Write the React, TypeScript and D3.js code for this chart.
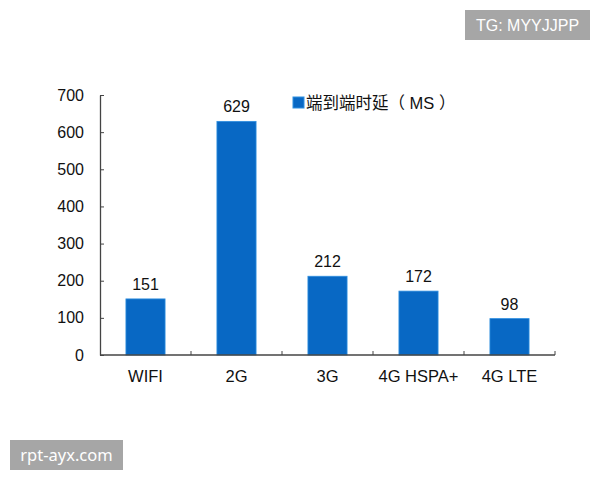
import React, { useEffect, useRef } from 'react';
import * as d3 from 'd3';

const categories = ['WIFI', '2G', '3G', '4G HSPA+', '4G LTE'];
const latency = [151, 629, 212, 172, 98];
const yTicks = [0, 100, 200, 300, 400, 500, 600, 700];
const seriesName = '端到端时延（ MS ）';

const App: React.FC = () => {
  const svgRef = useRef<SVGSVGElement>(null);

  useEffect(() => {
    if (!svgRef.current) return;
    const svg = d3.select(svgRef.current);
    svg.selectAll('*').remove();

    const width = 600;
    const height = 480;
    const margin = { left: 100, right: 45, top: 95, bottom: 125 };
    const font = '"Liberation Sans", Arial, "Noto Sans CJK SC", sans-serif';

    svg.attr('width', width).attr('height', height);
    svg.append('rect').attr('width', width).attr('height', height).style('fill', '#fff');

    const x = d3.scaleBand<string>()
      .domain(categories)
      .range([margin.left, width - margin.right])
      .paddingInner(0.57)
      .paddingOuter(0.285);

    const y = d3.scaleLinear()
      .domain([0, 700])
      .range([height - margin.bottom, margin.top]);

    const g = svg.append('g');

    // bars
    g.selectAll('.bar')
      .data(latency)
      .enter().append('rect')
      .attr('class', 'bar')
      .attr('x', (_, i) => x(categories[i])!)
      .attr('y', d => y(d))
      .attr('width', x.bandwidth())
      .attr('height', d => y(0) - y(d))
      .style('fill', '#0868c4')
      .style('stroke', '#2f8fe0')
      .style('stroke-width', 0.8);

    // value labels
    g.selectAll('.value')
      .data(latency)
      .enter().append('text')
      .attr('class', 'value')
      .attr('x', (_, i) => x(categories[i])! + x.bandwidth() / 2)
      .attr('y', d => y(d) - 9)
      .attr('text-anchor', 'middle')
      .style('font-family', font)
      .style('font-size', '16px')
      .style('fill', '#111')
      .text(d => d);

    // y axis
    const yAxis = g.append('g')
      .attr('transform', `translate(${margin.left},0)`)
      .call(d3.axisLeft(y).tickValues(yTicks).tickSize(-4).tickPadding(16).tickSizeOuter(0));
    yAxis.select('.domain').style('stroke', '#444').style('stroke-width', 1.3);
    yAxis.selectAll('.tick line').style('stroke', '#444');
    yAxis.selectAll('.tick text')
      .style('font-family', font)
      .style('font-size', '16px')
      .style('fill', '#111');

    // x axis with ticks between categories
    const x0 = margin.left;
    const step = x.step();
    const xAxis = g.append('g');
    xAxis.append('line')
      .attr('x1', x0).attr('x2', width - margin.right)
      .attr('y1', y(0)).attr('y2', y(0))
      .style('stroke', '#444').style('stroke-width', 1.5);
    xAxis.selectAll('.xtick')
      .data(d3.range(1, categories.length + 1))
      .enter().append('line')
      .attr('x1', i => x0 + i * step).attr('x2', i => x0 + i * step)
      .attr('y1', y(0)).attr('y2', y(0) - 4)
      .style('stroke', '#444');
    xAxis.selectAll('.xlabel')
      .data(categories)
      .enter().append('text')
      .attr('x', d => x(d)! + x.bandwidth() / 2)
      .attr('y', y(0) + 27)
      .attr('text-anchor', 'middle')
      .style('font-family', font)
      .style('font-size', '16.5px')
      .style('fill', '#111')
      .text(d => d);

    // legend
    const legend = svg.append('g').attr('transform', 'translate(293, 97)');
    legend.append('rect')
      .attr('width', 11).attr('height', 11)
      .style('fill', '#0868c4')
      .style('stroke', '#2f8fe0');
    legend.append('text')
      .attr('x', 13).attr('y', 11.5)
      .style('font-family', font)
      .style('font-size', '16.5px')
      .style('fill', '#111')
      .text(seriesName);

    // watermarks
    const mark = (bx: number, by: number, w: number, h: number, label: string, family: string, size: number) => {
      svg.append('rect')
        .attr('x', bx).attr('y', by).attr('width', w).attr('height', h)
        .style('fill', '#a6a6a6');
      svg.append('text')
        .attr('x', bx + w / 2).attr('y', by + h / 2)
        .attr('dy', '0.36em')
        .attr('text-anchor', 'middle')
        .style('font-family', family)
        .style('font-size', `${size}px`)
        .style('fill', '#fff')
        .text(label);
    };
    mark(465, 10, 125, 30, 'TG: MYYJJPP', '"Liberation Sans", Arial, sans-serif', 16);
    mark(10, 440, 113, 30, 'rpt-ayx.com', '"Noto Sans", "DejaVu Sans", sans-serif', 16.5);
  }, []);

  return (
    <div style={{ position: 'absolute', left: 0, top: 0 }}>
      <svg ref={svgRef}></svg>
    </div>
  );
};

export default App;
